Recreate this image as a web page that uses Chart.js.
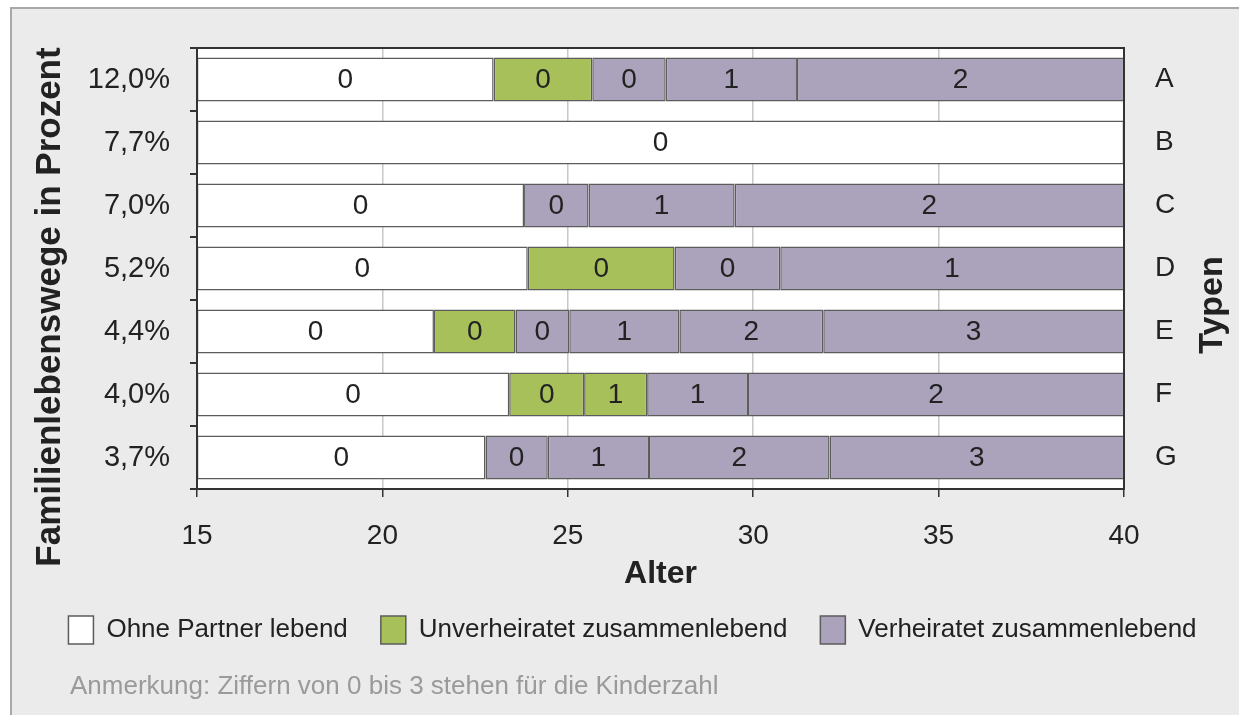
<!DOCTYPE html>
<html>
<head>
<meta charset="utf-8">
<script src="https://cdn.jsdelivr.net/npm/chart.js@4/dist/chart.umd.min.js"></script>
<style>
  body { margin: 0; background: #fff; overflow: hidden; }
  #frame {
    position: absolute; left: 10px; top: 7px; width: 1240px; height: 720px;
    background: #ebebeb; border-top: 2px solid #a8a8a8; border-left: 2px solid #a8a8a8;
  }
  #chart { position: absolute; left: 0; top: 0; }
  #note {
    position: absolute; left: 70px; top: 670px;
    font: 26px "Liberation Sans", Arial, sans-serif; color: #9a9a9a;
  }
</style>
</head>
<body>
<div id="frame"></div>
<canvas id="chart" width="1239" height="715"></canvas>
<div id="note">Anmerkung: Ziffern von 0 bis 3 stehen für die Kinderzahl</div>
<script>
// one row per Typ, top to bottom
const types = ["A", "B", "C", "D", "E", "F", "G"];
const shares = ["12,0%", "7,7%", "7,0%", "5,2%", "4,4%", "4,0%", "3,7%"];

// ages where a phase starts/ends (Alter)
const bounds = [
  [15, 23.0, 25.66, 27.64, 31.18, 40],
  [15, 40],
  [15, 23.82, 25.56, 29.5, 40],
  [15, 23.92, 27.88, 30.73, 40],
  [15, 21.39, 23.59, 25.04, 28.01, 31.89, 40],
  [15, 23.42, 25.44, 27.14, 29.86, 40],
  [15, 22.78, 24.46, 27.19, 32.06, 40],
];
// Kinderzahl per phase
const kids = [
  [0, 0, 0, 1, 2],
  [0],
  [0, 0, 1, 2],
  [0, 0, 0, 1],
  [0, 0, 0, 1, 2, 3],
  [0, 0, 1, 1, 2],
  [0, 0, 1, 2, 3],
];
// o = ohne Partner, u = unverheiratet, v = verheiratet
const states = [
  ["o", "u", "v", "v", "v"],
  ["o"],
  ["o", "v", "v", "v"],
  ["o", "u", "v", "v"],
  ["o", "u", "v", "v", "v", "v"],
  ["o", "u", "u", "v", "v"],
  ["o", "v", "v", "v", "v"],
];
const xTicks = [15, 20, 25, 30, 35, 40];

const legendNames = {
  o: "Ohne Partner lebend",
  u: "Unverheiratet zusammenlebend",
  v: "Verheiratet zusammenlebend",
};
const colors = { o: "#ffffff", u: "#a7c05a", v: "#aba2bb" };
const edge = "#5c5c5c";
const ink = "#222222";
const FONT = '"Liberation Sans", Arial, sans-serif';

const maxSeg = Math.max(...kids.map((k) => k.length));
const datasets = [];
for (let s = 0; s < maxSeg; s++) {
  datasets.push({
    label: "Phase " + (s + 1),
    data: bounds.map((b) => (s < b.length - 1 ? [b[s], b[s + 1]] : null)),
    kids: kids.map((k) => (s < k.length ? k[s] : null)),
    backgroundColor: states.map((st) => colors[st[s]] || "#fff"),
    borderColor: edge,
    borderWidth: 1.5,
    borderSkipped: false,
    grouped: false,
    barPercentage: 0.7,
    categoryPercentage: 1,
  });
}

const plotBg = {
  id: "plotBg",
  beforeDraw(chart) {
    const { ctx, chartArea: a } = chart;
    ctx.save();
    ctx.fillStyle = "#fff";
    ctx.fillRect(a.left, a.top, a.right - a.left, a.bottom - a.top);
    ctx.restore();
  },
  afterDraw(chart) {
    const { ctx, chartArea: a } = chart;
    ctx.save();
    ctx.strokeStyle = "#333";
    ctx.lineWidth = 2;
    ctx.strokeRect(a.left, a.top, a.right - a.left, a.bottom - a.top);
    ctx.restore();
  },
};

const segLabels = {
  id: "segLabels",
  afterDatasetsDraw(chart) {
    const { ctx } = chart;
    ctx.save();
    ctx.font = "28px " + FONT;
    ctx.fillStyle = ink;
    ctx.textAlign = "center";
    ctx.textBaseline = "middle";
    chart.data.datasets.forEach((ds, i) => {
      chart.getDatasetMeta(i).data.forEach((bar, j) => {
        if (ds.kids[j] === null) return;
        const p = bar.getCenterPoint();
        ctx.fillText(String(ds.kids[j]), p.x, p.y + 1);
      });
    });
    ctx.restore();
  },
};

const sideTitles = {
  id: "sideTitles",
  afterDraw(chart) {
    const { ctx } = chart;
    ctx.save();
    ctx.font = "bold 35px " + FONT;
    ctx.fillStyle = ink;
    ctx.textAlign = "center";
    ctx.textBaseline = "middle";
    ctx.translate(50, 307);
    ctx.rotate(-Math.PI / 2);
    ctx.fillText("Familienlebenswege in Prozent", 0, 0);
    ctx.restore();
    ctx.save();
    ctx.font = "bold 34px " + FONT;
    ctx.fillStyle = ink;
    ctx.textAlign = "center";
    ctx.textBaseline = "middle";
    ctx.translate(1213, 305);
    ctx.rotate(-Math.PI / 2);
    ctx.fillText("Typen", 0, 0);
    ctx.restore();
  },
};

new Chart(document.getElementById("chart"), {
  type: "bar",
  data: { labels: shares, datasets: datasets },
  plugins: [plotBg, segLabels, sideTitles],
  options: {
    indexAxis: "y",
    responsive: false,
    animation: false,
    layout: { padding: { left: 26, right: 0, top: 48, bottom: 61 } },
    scales: {
      x: {
        type: "linear",
        min: 15,
        max: 40,
        afterBuildTicks: (axis) => {
          axis.ticks = xTicks.map((v) => ({ value: v }));
        },
        afterFit: (axis) => {
          axis.height = 94;
        },
        ticks: { font: { size: 28, family: FONT, lineHeight: 1 }, color: ink, padding: 25 },
        grid: { color: "#c8c8c8", lineWidth: 1.5, tickColor: "#333", tickLength: 8 },
        border: { color: "#333", width: 2 },
        title: {
          display: true,
          text: "Alter",
          color: ink,
          font: { size: 32, weight: "bold", family: FONT, lineHeight: 1 },
          padding: { top: 0, bottom: -7 },
        },
      },
      y: {
        type: "category",
        afterFit: (axis) => {
          axis.width = 171;
        },
        ticks: { font: { size: 29, family: FONT }, color: ink, padding: 20 },
        grid: { offset: true, drawOnChartArea: false, tickColor: "#333", tickLength: 7, lineWidth: 2 },
        border: { color: "#333", width: 2 },
      },
      y2: {
        type: "category",
        position: "right",
        labels: types,
        afterFit: (axis) => {
          axis.width = 115;
        },
        ticks: { font: { size: 28, family: FONT }, color: ink, padding: 23 },
        grid: { display: false },
        border: { display: false },
      },
    },
    plugins: {
      tooltip: { enabled: false },
      legend: {
        position: "bottom",
        onClick: null,
        labels: {
          font: { size: 26, family: FONT },
          color: ink,
          boxWidth: 25,
          boxHeight: 28,
          padding: 33,
          generateLabels: () =>
            Object.keys(legendNames).map((k) => ({
              text: legendNames[k],
              fillStyle: colors[k],
              strokeStyle: edge,
              lineWidth: 1.5,
              fontColor: ink,
              hidden: false,
            })),
        },
      },
    },
  },
});
</script>
</body>
</html>
